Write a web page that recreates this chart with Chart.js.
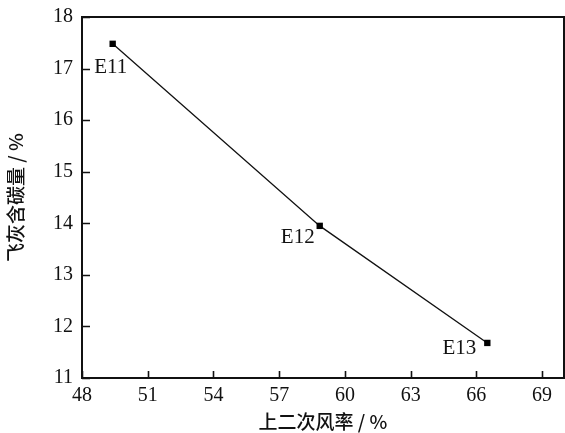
<!DOCTYPE html>
<html>
<head>
<meta charset="utf-8">
<script src="https://cdn.jsdelivr.net/npm/chart.js@4/dist/chart.umd.min.js"></script>
<style>
  html, body { margin: 0; padding: 0; background: #fff; overflow: hidden; }
  #wrap { width: 565px; height: 433px; position: relative; }
  canvas { display: block; }
</style>
</head>
<body>
<div id="wrap"><canvas id="c"></canvas></div>
<script>
// Secondary air ratio (%) against unburned carbon in fly ash (%)
const airRatio = [49.4, 58.85, 66.5];
const carbonContent = [17.48, 13.95, 11.68];
const caseNames = ['E11', 'E12', 'E13'];
const xTickValues = [48, 51, 54, 57, 60, 63, 66, 69];
const yTickValues = [11, 12, 13, 14, 15, 16, 17, 18];

const serif = '"Liberation Serif", "DejaVu Serif", serif';
const cjk = '"Noto Sans CJK SC", sans-serif';

// label offsets relative to each marker
const labelOffsets = [[-2, 24], [-22, 12], [-28, 6]];

const frameAndTicks = {
  id: 'frameAndTicks',
  afterDraw(chart) {
    const { ctx, chartArea: a, scales } = chart;
    ctx.save();
    ctx.strokeStyle = '#111';
    ctx.lineWidth = 2;
    ctx.strokeRect(a.left, a.top, a.right - a.left, a.bottom - a.top);
    ctx.lineWidth = 1.6;
    ctx.beginPath();
    xTickValues.forEach(v => {
      const px = Math.round(scales.x.getPixelForValue(v)) + 0.5;
      ctx.moveTo(px, a.bottom);
      ctx.lineTo(px, a.bottom - 7);
    });
    yTickValues.forEach(v => {
      const py = Math.round(scales.y.getPixelForValue(v)) + 0.5;
      ctx.moveTo(a.left, py);
      ctx.lineTo(a.left + 8, py);
    });
    ctx.stroke();

    // case labels
    ctx.fillStyle = '#111';
    ctx.font = '21px ' + serif;
    ctx.textAlign = 'center';
    ctx.textBaseline = 'middle';
    const meta = chart.getDatasetMeta(0);
    meta.data.forEach((pt, i) => {
      const [dx, dy] = labelOffsets[i];
      ctx.fillText(caseNames[i], pt.x + dx, pt.y + dy);
    });
    ctx.restore();
  }
};

new Chart(document.getElementById('c'), {
  type: 'scatter',
  data: {
    datasets: [{
      data: airRatio.map((x, i) => ({ x, y: carbonContent[i] })),
      showLine: true,
      borderColor: '#111',
      borderWidth: 1.3,
      backgroundColor: '#000',
      pointStyle: 'rect',
      pointRadius: 4.5,
      pointBorderWidth: 0,
      pointBackgroundColor: '#000'
    }]
  },
  options: {
    responsive: true,
    maintainAspectRatio: false,
    animation: false,
    layout: { autoPadding: false, padding: { top: 17, right: 1, left: 0, bottom: 0 } },
    plugins: { legend: { display: false }, tooltip: { enabled: false } },
    scales: {
      x: {
        type: 'linear',
        min: 48, max: 70,
        afterBuildTicks: s => { s.ticks = xTickValues.map(v => ({ value: v })); },
        afterFit: s => { s.height = 55; s.paddingLeft = 0; s.paddingRight = 0; },
        grid: { display: false, drawTicks: false },
        border: { display: false },
        ticks: { color: '#111', font: { family: serif, size: 20 }, padding: 6, maxRotation: 0 },
        title: { display: true, text: '上二次风率 / %', color: '#111',
                 font: { family: cjk, size: 19, weight: 500 }, padding: { top: 2, bottom: 0 } }
      },
      y: {
        type: 'linear',
        min: 11, max: 18,
        afterBuildTicks: s => { s.ticks = yTickValues.map(v => ({ value: v })); },
        afterFit: s => { s.width = 82; s.paddingTop = 0; s.paddingBottom = 0; },
        grid: { display: false, drawTicks: false },
        border: { display: false },
        ticks: { color: '#111', font: { family: serif, size: 20 }, padding: 9 },
        title: { display: true, text: '飞灰含碳量 / %', color: '#111',
                 font: { family: cjk, size: 19, weight: 500 }, padding: { top: 4, bottom: 4 } }
      }
    }
  },
  plugins: [frameAndTicks]
});
</script>
</body>
</html>
